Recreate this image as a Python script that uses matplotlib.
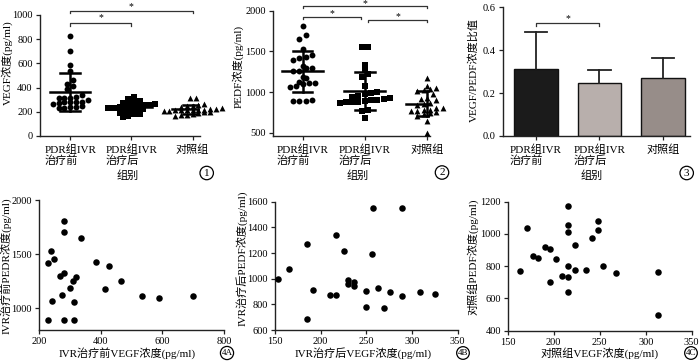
import numpy as np
import matplotlib
matplotlib.use('Agg')
import matplotlib.pyplot as plt

plt.rcParams['font.family'] = ['Liberation Serif', 'Noto Sans CJK SC', 'DejaVu Sans']
plt.rcParams['axes.unicode_minus'] = False

# ---------------- data ----------------
groups = ['PDR组IVR\n治疗前', 'PDR组IVR\n治疗后', '对照组']

# paired values per subject (VEGF, PEDF) pg/ml
vegf_pre = [828, 280, 280, 335, 240, 228, 250, 385, 428, 280, 267, 320, 310,
            300, 465, 415, 275, 242, 315, 535, 588, 700, 228, 280, 315]
pedf_pre = [905, 1810, 1705, 1655, 1530, 1420, 1455, 1430, 1395, 1325, 1295, 1292, 1255,
            1190, 1255, 1175, 1125, 1070, 1060, 1110, 1095, 1110, 890, 890, 895]

vegf_post = [257, 289, 217, 185, 226, 256, 165, 153, 230, 237, 230, 237,
             192, 210, 217, 250, 263, 276, 289, 309, 325, 250, 269, 185]
pedf_post = [1548, 1548, 1338, 1273, 1216, 1190, 1078, 997, 990, 977, 956, 943,
             909, 873, 873, 904, 925, 899, 868, 896, 878, 777, 771, 686]

vegf_ctrl = [216, 171, 216, 216, 248, 248, 242, 190, 196, 223, 177, 183, 203,
             163, 216, 223, 235, 254, 209, 216, 268, 313, 196, 216, 313]
pedf_ctrl = [1173, 1039, 1054, 1014, 1078, 1023, 975, 920, 905, 930, 866, 852, 845,
             771, 800, 779, 775, 804, 742, 734, 755, 763, 701, 639, 495]

ratio_mean = [0.312, 0.246, 0.272]
ratio_sd = [0.172, 0.062, 0.093]
bar_colors = ['#1b1b1b', '#b8afac', '#978d89']

markers = ['o', 's', '^']

# ---------------- layout helpers ----------------
W, H = 700, 362
fig = plt.figure(figsize=(7, 3.62), dpi=100)

TICK_FS = 7.5
LAB_FS = 8


def add_ax(x0, x1, ytop, ybot):
    return fig.add_axes([x0 / W, 1 - ybot / H, (x1 - x0) / W, (ybot - ytop) / H])


def ftext(x, y, s, **kw):
    return fig.text(x / W, 1 - y / H, s, **kw)


def style(ax):
    for sp in ['top', 'right']:
        ax.spines[sp].set_visible(False)
    for sp in ['left', 'bottom']:
        ax.spines[sp].set_linewidth(1.0)
        ax.spines[sp].set_color('#222222')
    ax.tick_params(direction='out', length=3, width=0.9, labelsize=TICK_FS, pad=2,
                   color='#222222')


def circled(x, y, s, fs=8, pad=0.2):
    ftext(x, y, s, ha='center', va='center', fontsize=fs,
          bbox=dict(boxstyle='circle,pad=%s' % pad, fc='none', ec='black', lw=0.9))


def row_swarm(ax, xc, vals, row_px, sp_px):
    """GraphPad-like scatter: values binned into rows, spread symmetrically."""
    vals = np.asarray(vals, float)
    py = np.array([ax.transData.transform((xc, v))[1] for v in vals])
    x0 = ax.transData.transform((xc, 0))[0]
    xu = ax.transData.transform((xc + 1, 0))[0] - x0
    order = np.argsort(vals)
    rows, cur, start = [], [order[0]], py[order[0]]
    for i in order[1:]:
        if py[i] - start < row_px:
            cur.append(i)
        else:
            rows.append(cur)
            cur, start = [i], py[i]
    rows.append(cur)
    offs = np.zeros(len(vals))
    for r in rows:
        n = len(r)
        for j, i in enumerate(r):
            offs[i] = (j - (n - 1) / 2) * sp_px / xu
    return xc + offs


def dotplot(ax, data_list, row_px, sp_px):
    for k, vals in enumerate(data_list):
        xs = row_swarm(ax, k, vals, row_px, sp_px)
        ax.scatter(xs, vals, s=18, marker=markers[k], color='black', zorder=3,
                   linewidths=0, clip_on=False)
        m = np.mean(vals)
        sd = np.std(vals, ddof=1)
        ax.plot([k - 0.33, k + 0.33], [m, m], color='black', lw=1.8, zorder=4)
        ax.plot([k - 0.16, k + 0.16], [m + sd, m + sd], color='black', lw=1.8, zorder=4)
        ax.plot([k - 0.16, k + 0.16], [m - sd, m - sd], color='black', lw=1.8, zorder=4)
        ax.plot([k, k], [m - sd, m + sd], color='black', lw=1.8, zorder=4)


def bracket(ax, x1, x2, y, tick, ystar):
    ax.plot([x1, x1, x2, x2], [y - tick, y, y, y - tick], color='#333333', lw=0.9,
            clip_on=False)
    ax.text((x1 + x2) / 2, ystar, '*', ha='center', va='center', fontsize=7,
            clip_on=False)


def cat_xaxis(ax):
    ax.set_xticks([0, 1, 2])
    ax.set_xticklabels(groups, fontsize=LAB_FS, multialignment='left', linespacing=1.05)
    ax.tick_params(axis='x', pad=3)


# ---------------- panel 1 : VEGF ----------------
ax1 = add_ax(39.5, 200, 15, 136)
ax1.set_xlim(-0.5, 2.12)
ax1.set_ylim(0, 1000)
ax1.set_yticks([0, 200, 400, 600, 800, 1000])
style(ax1)
cat_xaxis(ax1)
dotplot(ax1, [vegf_pre, vegf_post, vegf_ctrl], 4.5, 5.8)
bracket(ax1, 0, 2, 1033, 20, 1070)
bracket(ax1, 0, 1, 935, 25, 975)
ftext(7.5, 63, 'VEGF浓度(pg/ml)', rotation=90, ha='center', va='center', fontsize=LAB_FS)
ftext(128, 176, '组别', ha='center', va='center', fontsize=LAB_FS)
circled(206.7, 173, '1')

# ---------------- panel 2 : PEDF ----------------
ax2 = add_ax(272.7, 430, 10.7, 136)
ax2.set_xlim(-0.48, 2.05)
ax2.set_ylim(460, 2000)
ax2.set_yticks([500, 1000, 1500, 2000])
style(ax2)
cat_xaxis(ax2)
dotplot(ax2, [pedf_pre, pedf_post, pedf_ctrl], 5.0, 6.3)
bracket(ax2, 0, 2, 2058, 25, 2082)
bracket(ax2, 0, 0.94, 1926, 30, 1970)
bracket(ax2, 1.06, 2, 1886, 30, 1930)
ftext(238, 66, 'PEDF浓度(pg/ml)', rotation=90, ha='center', va='center', fontsize=LAB_FS)
ftext(358, 176, '组别', ha='center', va='center', fontsize=LAB_FS)
circled(442, 172.5, '2')

# ---------------- panel 3 : ratio ----------------
ax3 = add_ax(502.7, 690, 7.3, 136)
ax3.set_xlim(-0.524, 2.425)
ax3.set_ylim(0, 0.6)
ax3.set_yticks([0.0, 0.2, 0.4, 0.6])
ax3.set_yticklabels(['0.0', '0.2', '0.4', '0.6'])
style(ax3)
cat_xaxis(ax3)
for k in range(3):
    ax3.bar(k, ratio_mean[k], width=0.69, color=bar_colors[k], edgecolor='#111111',
            linewidth=1.0, zorder=2)
    top = ratio_mean[k] + ratio_sd[k]
    ax3.plot([k, k], [ratio_mean[k], top], color='#222222', lw=1.3, zorder=3)
    ax3.plot([k - 0.18, k + 0.18], [top, top], color='#222222', lw=1.3, zorder=3)
bracket(ax3, 0, 1, 0.525, 0.014, 0.545)
ftext(473, 70, 'VEGF/PEDF浓度比值', rotation=90, ha='center', va='center', fontsize=LAB_FS)
ftext(591.7, 176, '组别', ha='center', va='center', fontsize=LAB_FS)
circled(686.7, 173, '3')

# ---------------- panel 4A ----------------
axa = add_ax(39, 224, 200.3, 330)
axa.set_xlim(200, 800)
axa.set_ylim(800, 2000)
axa.set_xticks([200, 400, 600, 800])
axa.set_yticks([1000, 1500, 2000])
style(axa)
axa.scatter(vegf_pre, pedf_pre, s=22, color='black', linewidths=0, zorder=3)
ftext(6, 266, 'IVR治疗前PEDR浓度(pg/ml)', rotation=90, ha='center', va='center', fontsize=LAB_FS)
ftext(127, 353, 'IVR治疗前VEGF浓度(pg/ml)', ha='center', va='center', fontsize=LAB_FS)
circled(227, 353, '4A', fs=6.5, pad=0.12)

# ---------------- panel 4B ----------------
axb = add_ax(275, 457.7, 201.7, 330)
axb.set_xlim(150, 350)
axb.set_ylim(600, 1600)
axb.set_xticks([150, 200, 250, 300, 350])
axb.set_yticks([600, 800, 1000, 1200, 1400, 1600])
style(axb)
axb.scatter(vegf_post, pedf_post, s=22, color='black', linewidths=0, zorder=3)
ftext(242, 258, 'IVR治疗后PEDF浓度(pg/ml)', rotation=90, ha='center', va='center', fontsize=LAB_FS)
ftext(363, 353, 'IVR治疗后VEGF浓度(pg/ml)', ha='center', va='center', fontsize=LAB_FS)
circled(463, 353, '4B', fs=6.5, pad=0.12)

# ---------------- panel 4C ----------------
axc = add_ax(507.7, 691.7, 201.7, 330.7)
axc.set_xlim(150, 350)
axc.set_ylim(400, 1200)
axc.set_xticks([150, 200, 250, 300, 350])
axc.set_yticks([400, 600, 800, 1000, 1200])
style(axc)
axc.scatter(vegf_ctrl, pedf_ctrl, s=22, color='black', linewidths=0, zorder=3)
ftext(473, 257, '对照组PEDF浓度(pg/ml)', rotation=90, ha='center', va='center', fontsize=LAB_FS)
ftext(600, 353, '对照组VEGF浓度(pg/ml)', ha='center', va='center', fontsize=LAB_FS)
circled(691, 353, '4C', fs=6.5, pad=0.12)

fig.savefig('out.png', dpi=100)
